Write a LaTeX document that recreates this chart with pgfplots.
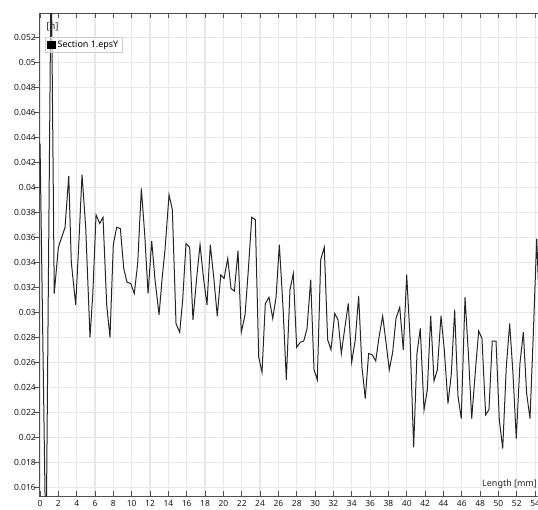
\documentclass[border=0pt]{standalone}
\usepackage{fontspec}
\setmainfont{Noto Sans}
\usepackage{pgfplots}
\pgfplotsset{compat=1.18}

\definecolor{gridc}{HTML}{E8E8E8}
\definecolor{axc}{HTML}{505050}

\begin{document}
\begin{tikzpicture}
\begin{axis}[
    name=ax,
    scale only axis,
    width=498.7bp, height=483.2bp,
    xmin=-0.08, xmax=54.31,
    ymin=0.01526, ymax=0.05392,
    axis x line*=box, axis y line*=left,
    axis line style={axc, line width=1.3bp},
    xtick={0,2,...,54},
    ytick={0.016,0.018,0.020,0.022,0.024,0.026,0.028,0.030,0.032,0.034,0.036,0.038,0.040,0.042,0.044,0.046,0.048,0.050,0.052},
    scaled y ticks=false,
    yticklabel style={/pgf/number format/fixed, /pgf/number format/precision=3},
    /pgf/number format/assume math mode=true,
    tick label style={font=\fontsize{8.5}{10}\selectfont, text=black!90},
    tick align=inside,
    major tick length=5bp,
    tick style={axc, line width=1bp},
    ytick style={xshift=-5bp},
    grid=major,
    major grid style={gridc, line width=1.2bp},
    legend style={at={(axis description cs:0,1)}, anchor=north west,
        xshift=5.7bp, yshift=-23.7bp, draw=gray!40, fill=white,
        fill opacity=0.6, text opacity=1, inner sep=1.5bp,
        font=\fontsize{9}{10}\selectfont},
    legend cell align=left,
    legend image code/.code={\fill[black, fill opacity=1] (0bp,-3.5bp) rectangle (8bp,3.5bp);},
]
\addplot[black!85, line width=1bp] coordinates {
(0.00,0.0435) (0.65,0.0100) (1.12,0.0505) (1.22,0.0580) (1.55,0.0315)
(2.00,0.0352) (2.37,0.0360) (2.73,0.0368) (3.13,0.0409) (3.41,0.0340)
(3.89,0.0306) (4.25,0.0358) (4.58,0.0410) (4.98,0.0368) (5.45,0.0280)
(5.75,0.0314) (6.11,0.0378) (6.51,0.0371) (6.87,0.0376) (7.27,0.0306)
(7.63,0.0280) (7.99,0.0354) (8.36,0.0368) (8.76,0.0367) (9.13,0.0335)
(9.49,0.0324) (9.89,0.0323) (10.28,0.0315) (10.65,0.0339) (11.05,0.0399)
(11.42,0.0362) (11.78,0.0315) (12.18,0.0357) (12.54,0.0326) (12.98,0.0298)
(13.34,0.0329) (13.63,0.0350) (14.07,0.0394) (14.43,0.0382) (14.83,0.0291)
(15.23,0.0284) (15.56,0.0310) (15.92,0.0355) (16.32,0.0352) (16.68,0.0294)
(17.09,0.0328) (17.45,0.0354) (17.85,0.0326) (18.21,0.0306) (18.57,0.0354)
(18.97,0.0326) (19.33,0.0297) (19.71,0.0330) (20.07,0.0327) (20.47,0.0343)
(20.83,0.0319) (21.19,0.0317) (21.59,0.0349) (21.95,0.0284) (22.36,0.0298)
(22.72,0.0334) (23.09,0.0376) (23.48,0.0374) (23.85,0.0264) (24.21,0.0252)
(24.57,0.0307) (24.97,0.0312) (25.38,0.0295) (25.74,0.0312) (26.10,0.0354)
(26.50,0.0304) (26.86,0.0246) (27.26,0.0318) (27.62,0.0331) (27.99,0.0272)
(28.39,0.0276) (28.76,0.0277) (29.12,0.0287) (29.52,0.0326) (29.88,0.0254)
(30.24,0.0246) (30.61,0.0342) (31.00,0.0352) (31.37,0.0278) (31.73,0.0270)
(32.14,0.0299) (32.50,0.0294) (32.86,0.0267) (33.23,0.0287) (33.62,0.0307)
(33.99,0.0260) (34.38,0.0278) (34.75,0.0313) (35.11,0.0256) (35.47,0.0231)
(35.84,0.0267) (36.24,0.0266) (36.61,0.0261) (36.97,0.0280) (37.37,0.0297)
(37.73,0.0276) (38.09,0.0254) (38.46,0.0268) (38.82,0.0295) (39.23,0.0304)
(39.62,0.0270) (39.99,0.0330) (40.35,0.0280) (40.75,0.0192) (41.11,0.0267)
(41.47,0.0287) (41.88,0.0222) (42.24,0.0238) (42.61,0.0297) (42.97,0.0245)
(43.33,0.0254) (43.73,0.0297) (44.09,0.0270) (44.49,0.0227) (44.85,0.0250)
(45.22,0.0302) (45.58,0.0233) (45.94,0.0215) (46.35,0.0312) (46.71,0.0268)
(47.08,0.0215) (47.47,0.0252) (47.84,0.0285) (48.20,0.0279) (48.60,0.0218)
(48.96,0.0222) (49.32,0.0277) (49.73,0.0277) (50.09,0.0214) (50.46,0.0191)
(50.85,0.0256) (51.22,0.0291) (51.58,0.0251) (51.94,0.0199) (52.34,0.0259)
(52.71,0.0284) (53.07,0.0235) (53.44,0.0215) (53.80,0.0283) (54.17,0.0359)
(54.53,0.0290)
};
\addlegendentry{Section 1.epsY}
\end{axis}
\node[anchor=west, font=\fontsize{9.5}{10}\selectfont, text=black!85, inner sep=0pt]
    at ([xshift=7bp,yshift=-14bp]ax.north west) {[n]};
\node[anchor=base east, font=\fontsize{9}{10}\selectfont, text=black!85, inner sep=0pt]
    at ([xshift=-1bp,yshift=10.5bp]ax.south east) {Length [mm]};
\pgfresetboundingbox
\path[use as bounding box] ([xshift=-39.3bp,yshift=-13.5bp]ax.south west)
    rectangle ([yshift=13.3bp]ax.north east);
\end{tikzpicture}
\end{document}
